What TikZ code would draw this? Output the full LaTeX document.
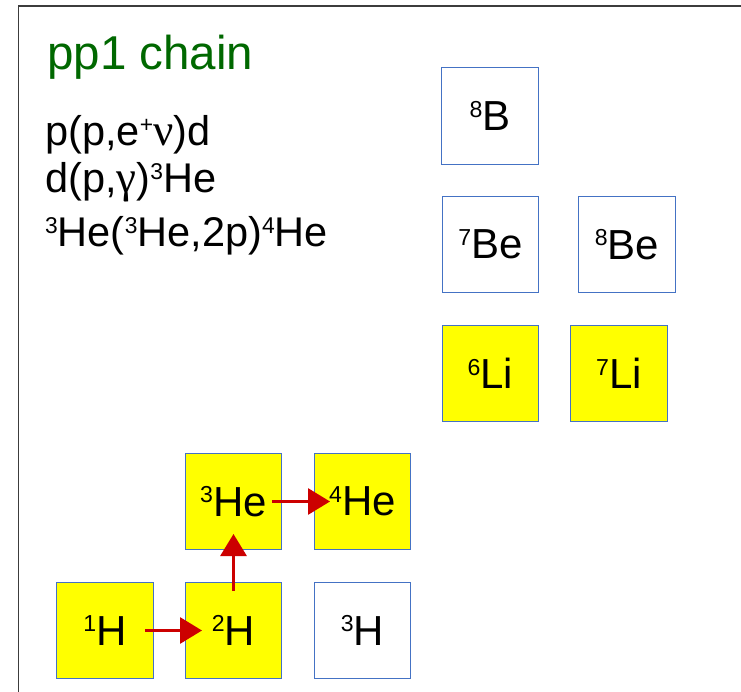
\documentclass[tikz,border=0pt]{standalone}
\usepackage{fontspec}
\setmainfont{Liberation Sans}
\newfontfamily\greekserif{Liberation Serif}
\usetikzlibrary{arrows.meta}
\definecolor{boxblue}{RGB}{68,114,196}
\definecolor{arrred}{RGB}{204,0,0}
\definecolor{boxyellow}{RGB}{255,255,0}
\definecolor{titlegreen}{RGB}{0,104,0}
\definecolor{framegray}{RGB}{60,60,60}
\newcommand\upsc[1]{\raisebox{0.32em}{\scalebox{0.55}{#1}}}
\begin{document}
\begin{tikzpicture}[x=1pt,y=-1pt,
  nuc/.style={draw=boxblue, line width=0.9pt, minimum size=96.5pt, inner sep=0pt, font=\fontsize{42}{50}\selectfont, anchor=center},
  filled/.style={nuc, fill=boxyellow},
  emptybox/.style={nuc, fill=white},
  flow/.style={draw=arrred, line width=3pt, -{Triangle[length=22pt,width=26pt]}},
  formula/.style={anchor=base west, inner sep=0pt, font=\fontsize{41.5}{48}\selectfont}]
\useasboundingbox (0,0) rectangle (741,692);
\fill[white] (0,0) rectangle (741,692);
\draw[framegray, line width=1.5pt] (18.5,700) -- (18.5,6) -- (750,6);

\node[formula, text=titlegreen, font=\fontsize{47.5}{54}\selectfont] (title) at (47,70) {pp1 chain};
\node[formula] (r1) at (45,146) {p(p,e\upsc{+}{\greekserif\fontsize{45}{48}\selectfont ν})d};
\node[formula] (r2) at (45,193) {d(p,{\greekserif\fontsize{45}{48}\selectfont γ})\upsc{3}He};
\node[formula] (r3) at (45,247) {\upsc{3}He(\upsc{3}He,2p)\upsc{4}He};

\node[emptybox] (b8) at (490,116) {\upsc{8}B};
\node[emptybox] (be7) at (490.5,244.5) {\upsc{7}Be};
\node[emptybox] (be8) at (627,244.5) {\upsc{8}Be};
\node[filled] (li6) at (490.5,373.5) {\upsc{6}Li};
\node[filled] (li7) at (619,373.5) {\upsc{7}Li};
\node[filled] (he3) at (233.5,501.5) {\upsc{3}He};
\node[filled] (he4) at (362.5,501.5) {\upsc{4}He};
\node[filled] (h1) at (105,630.5) {\upsc{1}H};
\node[filled] (h2) at (233.5,630.5) {\upsc{2}H};
\node[emptybox] (h3) at (362.5,630.5) {\upsc{3}H};

\draw[flow, shorten <=40pt, shorten >=31.5pt] (h1.center) -- (h2.center);
\draw[flow, shorten <=39.5pt, shorten >=32.5pt] (h2.center) -- (he3.center);
\draw[flow, shorten <=38.5pt, shorten >=32.5pt] (he3.center) -- (he4.center);
\end{tikzpicture}
\end{document}
